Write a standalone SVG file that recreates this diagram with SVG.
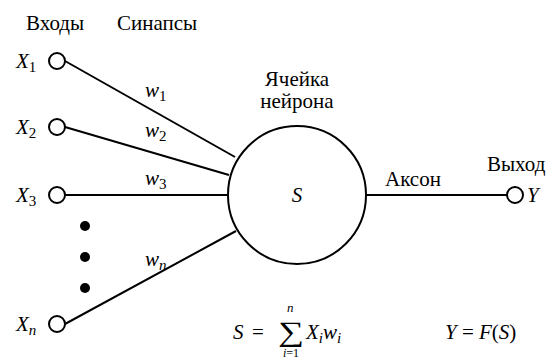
<svg xmlns="http://www.w3.org/2000/svg" width="553" height="360" viewBox="0 0 553 360" font-family="Liberation Serif, serif">
<style>
.i{font-style:italic}
.pin{fill:#fff;stroke:#000;stroke-width:2}
.ln{stroke:#000;stroke-width:2;fill:none}
</style>
<rect width="553" height="360" fill="#fff"/>
<g font-family="Liberation Serif, DejaVu Serif, serif" font-size="21" fill="#000">
<text x="26" y="30">Входы</text>
<text x="117" y="30">Синапсы</text>
<g id="connectors">
<line class="ln" x1="65" y1="61" x2="235" y2="157"/>
<line class="ln" x1="65" y1="127" x2="229" y2="175"/>
<line class="ln" x1="65" y1="195" x2="228" y2="195"/>
<line class="ln" x1="65" y1="324" x2="236" y2="231"/>
<line class="ln" x1="366" y1="195" x2="507" y2="195"/>
<text class="i" x="145" y="97">w<tspan font-size="15" font-style="normal" dy="4">1</tspan></text>
<text class="i" x="145" y="137">w<tspan font-size="15" font-style="normal" dy="4">2</tspan></text>
<text class="i" x="145" y="185">w<tspan font-size="15" font-style="normal" dy="4">3</tspan></text>
<text class="i" x="145" y="266">w<tspan font-size="15" dy="4">n</tspan></text>
<text x="385" y="186">Аксон</text>
</g>
<g id="x1"><circle class="pin" cx="57" cy="61" r="8"/><text class="i" x="16" y="68">X<tspan font-size="15" font-style="normal" dy="4">1</tspan></text></g>
<g id="x2"><circle class="pin" cx="57" cy="127" r="8"/><text class="i" x="16" y="134">X<tspan font-size="15" font-style="normal" dy="4">2</tspan></text></g>
<g id="x3"><circle class="pin" cx="57" cy="195" r="8"/><text class="i" x="16" y="202">X<tspan font-size="15" font-style="normal" dy="4">3</tspan></text></g>
<g id="dots"><circle cx="85" cy="226" r="5"/><circle cx="85" cy="257" r="5"/><circle cx="85" cy="288" r="5"/></g>
<g id="xn"><circle class="pin" cx="57" cy="324" r="8"/><text class="i" x="16" y="331">X<tspan font-size="15" dy="4">n</tspan></text></g>
<g id="neuron">
<circle class="ln" cx="297" cy="195" r="69"/>
<text x="297" y="86" text-anchor="middle">Ячейка</text>
<text x="297" y="108" text-anchor="middle">нейрона</text>
<text class="i" x="297" y="202" text-anchor="middle">S</text>
</g>
<g id="y"><circle class="pin" cx="515" cy="195" r="8"/>
<text x="487" y="171">Выход</text>
<text class="i" x="527" y="202">Y</text></g>
<g id="formulas">
<text class="i" x="233" y="339">S</text>
<text x="252" y="339">=</text>
<text font-size="28" transform="translate(278 341) scale(1.3 1)">∑</text>
<text class="i" font-size="13" x="287" y="312">n</text>
<text font-size="12" x="283" y="357"><tspan class="i">i</tspan>=1</text>
<text class="i" x="306" y="339">X<tspan font-size="15" dy="4">i</tspan><tspan dy="-4">w</tspan><tspan font-size="15" dy="4">i</tspan></text>
<text class="i" x="445" y="339">Y<tspan font-style="normal"> = </tspan>F<tspan font-style="normal">(</tspan>S<tspan font-style="normal">)</tspan></text>
</g>
</g>
</svg>
